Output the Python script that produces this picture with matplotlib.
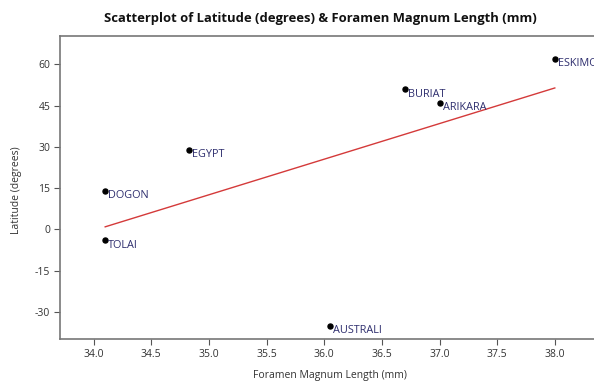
import numpy as np
import matplotlib
matplotlib.use("Agg")
import matplotlib.pyplot as plt

# Data
groups = ["DOGON", "TOLAI", "EGYPT", "BURIAT", "ARIKARA", "ESKIMO", "AUSTRALI"]
foramen_mm = [34.1, 34.1, 34.83, 36.7, 37.0, 38.0, 36.05]
latitude = [14, -4, 29, 51, 46, 62, -35]
xticks = [34.0, 34.5, 35.0, 35.5, 36.0, 36.5, 37.0, 37.5, 38.0]
yticks = [-30, -15, 0, 15, 30, 45, 60]

plt.rcParams["font.family"] = ["Open Sans", "DejaVu Sans"]
plt.rcParams["axes.unicode_minus"] = False

fig = plt.figure(figsize=(5.94, 3.85), dpi=100)
ax = fig.add_axes([0.101, 0.1195, 0.899, 0.787])

ax.scatter(foramen_mm, latitude, s=13, color="black", zorder=3)
for name, x, y in zip(groups, foramen_mm, latitude):
    ax.annotate(name, (x, y), xytext=(3, -5), textcoords="offset pixels",
                ha="left", va="center", fontsize=7.8, color="#2e2e6e")

# least squares line drawn between min and max x
slope, icept = np.polyfit(foramen_mm, latitude, 1)
xl = np.array([min(foramen_mm), max(foramen_mm)])
ax.plot(xl, slope * xl + icept, color="#d43a3a", lw=1.0, zorder=2)

ax.set_xlim(33.708, 38.34)
ax.set_ylim(-39.8, 70.3)
ax.set_xticks(xticks)
ax.set_xticklabels([f"{t:.1f}" for t in xticks])
ax.set_yticks(yticks)
ax.tick_params(direction="out", length=4, width=0.8, color="#555555",
               labelsize=7.5, labelcolor="#333333", pad=3)
for side in ["left", "bottom", "top"]:
    ax.spines[side].set_color("#777777")
    ax.spines[side].set_linewidth(1.2)
ax.spines["right"].set_visible(False)

fig.text(0.54, 0.953, "Scatterplot of Latitude (degrees) & Foramen Magnum Length (mm)",
         ha="center", va="center", fontsize=9.4, fontweight="bold", color="#111111")
fig.text(0.555, 0.024, "Foramen Magnum Length (mm)", ha="center", va="center",
         fontsize=7.5, color="#333333")
fig.text(0.028, 0.505, "Latitude (degrees)", ha="center", va="center",
         rotation=90, fontsize=7.5, color="#333333")

fig.savefig("out.png", dpi=100)
